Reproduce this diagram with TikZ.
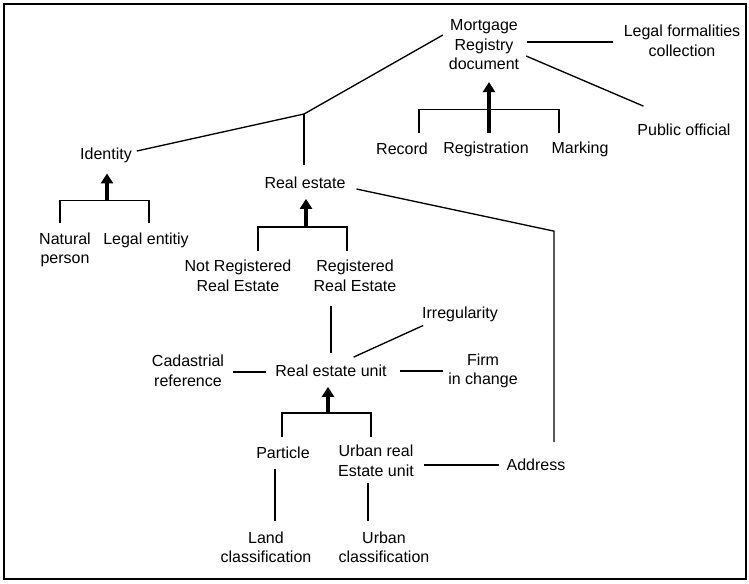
\documentclass[tikz,border=0pt]{standalone}
\usepackage{fontspec}
\setmainfont{Liberation Sans}
\usetikzlibrary{calc,arrows.meta}
\begin{document}
\begin{tikzpicture}[x=0.75pt,y=-0.75pt,
  lbl/.style={font=\fontsize{12}{14.6}\selectfont, align=center, inner sep=0pt, outer sep=0pt},
  conn/.style={line width=1pt},
  uparrow/.style={line width=2.3pt, -{Triangle[length=7.5pt,width=9pt]}}]
\useasboundingbox (0,0) rectangle (749,583);
\draw[line width=1.1pt] (4,4) rectangle (746,579);

% labels
\node[lbl] (mrd)  at (484,45)  {Mortgage\\Registry\\document};
\node[lbl] (lfc)  at (682,41)  {Legal formalities\\collection};
\node[lbl] (pub)  at (684,130) {Public official};
\node[lbl] (rec)  at (402,149) {Record};
\node[lbl] (reg)  at (486,149) {Registration};
\node[lbl] (mark) at (580,149) {Marking};
\node[lbl] (idn)  at (106,155) {Identity};
\node[lbl] (res)  at (305,183) {Real estate};
\node[lbl] (nat)  at (65,250)  {Natural\\person};
\node[lbl] (leg)  at (146,240) {Legal entitiy};
\node[lbl] (nrre) at (238,276) {Not Registered\\Real Estate};
\node[lbl] (rre)  at (355,276) {Registered\\Real Estate};
\node[lbl] (irr)  at (460,314) {Irregularity};
\node[lbl] (cad)  at (188,371) {Cadastrial\\reference};
\node[lbl] (reu)  at (331,371) {Real estate unit};
\node[lbl] (firm) at (483,371) {Firm\\in change};
\node[lbl] (par)  at (283,453) {Particle};
\node[lbl] (urb)  at (376,461) {Urban real\\Estate unit};
\node[lbl] (adr)  at (536,465) {Address};
\node[lbl] (land) at (266,547) {Land\\classification};
\node[lbl] (ucl)  at (384,547) {Urban\\classification};

% document and its attributes
\coordinate (fork) at (304,114);
\draw[conn] ($(mrd.west)+(-6,-10)$) -- (fork) -- ($(idn.east)+(5,-4)$);
\draw[conn] (fork) -- ($(fork |- res.north)+(0,-12)$);
\draw[conn] ($(mrd.east |- lfc.west)+(8,1)$) -- ($(lfc.west)+(-11,1)$);
\draw[conn] ($(mrd.east)+(7,11)$) -- ($(pub.north west)+(6,-18)$);

% kinds of registry entry
\coordinate (regbar) at ($(reg.north)+(3,-32)$);
\draw[conn] ($(regbar)+(-70,23)$) -- ($(regbar)+(-70,0)$) -- ($(regbar)+(70,0)$) -- ($(regbar)+(70,23)$);
\draw[uparrow] ($(regbar)+(0,23)$) -- ($(reg.north |- mrd.south)+(3,12)$);

% kinds of identity
\coordinate (idbar) at ($(idn.south)+(1,38)$);
\draw[conn] ($(idbar)+(-47,23)$) -- ($(idbar)+(-47,0)$) -- ($(idbar)+(42,0)$) -- ($(idbar)+(42,23)$);
\draw[uparrow] (idbar) -- ($(idn.south)+(1,11)$);

% kinds of real estate
\coordinate (rebar) at ($(res.south)+(1,38)$);
\draw[conn] ($(rebar)+(-48,24)$) -- ($(rebar)+(-48,0)$) -- ($(rebar)+(41,0)$) -- ($(rebar)+(41,24)$);
\draw[uparrow] (rebar) -- ($(res.south)+(1,10)$);

% real estate unit and its attributes
\draw[conn] ($(reu.north |- rre.south)+(0,14)$) -- ($(reu.north)+(0,-12)$);
\draw[conn] ($(cad.east |- reu.east)+(9,1)$) -- ($(reu.west)+(-9,1)$);
\draw[conn] ($(reu.north east)+(-33,-8)$) -- ($(irr.south west)+(1,4)$);
\draw[conn] ($(reu.east)+(13,0)$) -- ($(firm.west |- reu.east)+(-5,0)$);

% address
\draw[conn] ($(res.east)+(11,6)$) -- ($(adr.north)+(18,-228)$) -- ($(adr.north)+(18,-17)$);
\draw[conn] ($(urb.east |- adr.west)+(10,0)$) -- ($(adr.west)+(-8,0)$);

% kinds of real estate unit
\coordinate (pubar) at ($(reu.south)+(-3,36)$);
\draw[conn] ($(pubar)+(-46,24)$) -- ($(pubar)+(-46,0)$) -- ($(pubar)+(43,0)$) -- ($(pubar)+(43,24)$);
\draw[uparrow] (pubar) -- ($(reu.south)+(-3,10)$);

% classifications
\draw[conn] ($(par.south)+(-8,10)$) -- ($(par.south |- land.north)+(-8,-10)$);
\draw[conn] ($(urb.south)+(-8,6)$) -- ($(urb.south |- ucl.north)+(-8,-10)$);
\end{tikzpicture}
\end{document}
